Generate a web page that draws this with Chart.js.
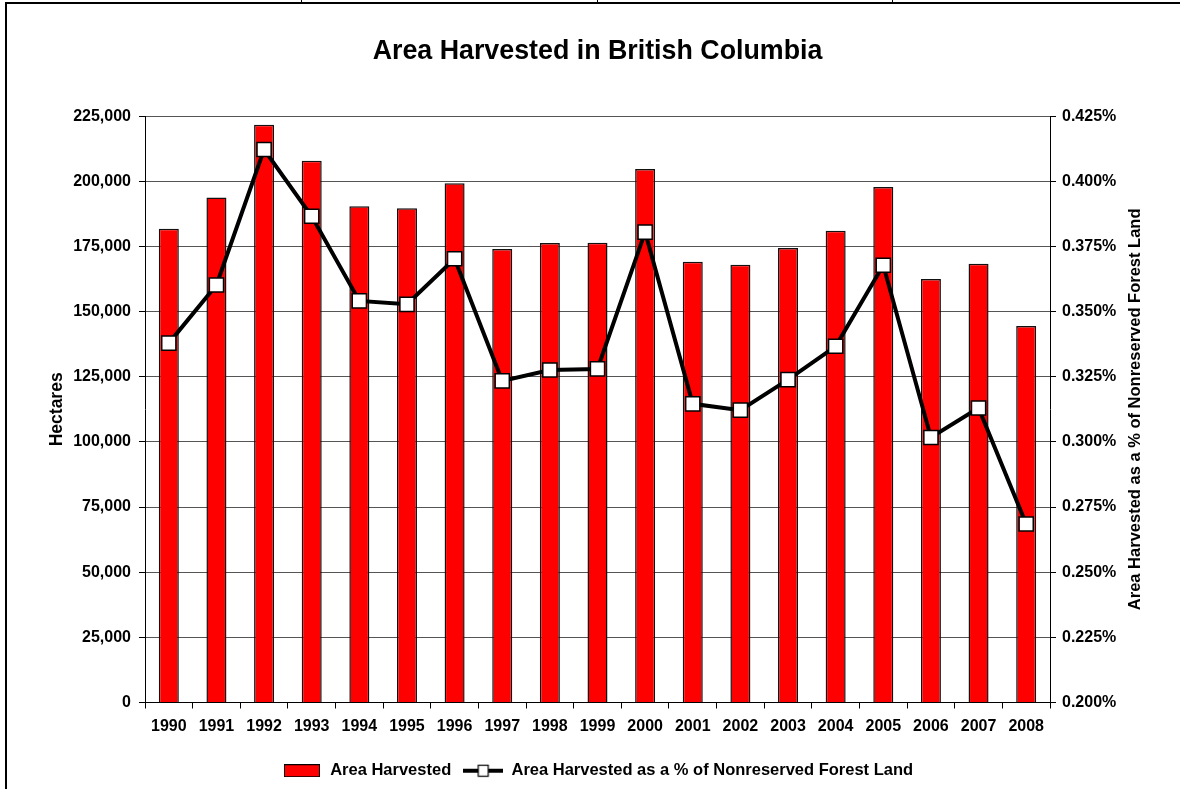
<!DOCTYPE html>
<html>
<head>
<meta charset="utf-8">
<script src="https://cdn.jsdelivr.net/npm/chart.js@4"></script>
<style>
  body { margin: 0; background: #fff; }
  #wrap { position: relative; width: 1180px; height: 789px; }
  #frame { position: absolute; left: 5px; top: 2px; right: 0; bottom: 0; border-left: 2px solid #000; border-top: 2px solid #000; pointer-events: none; }
  .cell { position: absolute; top: 0; width: 1px; height: 2px; background: #000; }
</style>
</head>
<body>
<div id="wrap">
  <canvas id="chart"></canvas>
  <div id="frame"></div>
  <div class="cell" style="left:301px"></div>
  <div class="cell" style="left:597px"></div>
  <div class="cell" style="left:892px"></div>
</div>
<script>
const years = ['1990','1991','1992','1993','1994','1995','1996','1997','1998','1999',
               '2000','2001','2002','2003','2004','2005','2006','2007','2008'];

// hectares harvested
const areaHarvested = [181800, 193800, 221700, 207900, 190400, 189700, 199300, 174000, 176300, 176400,
                       204700, 169100, 168000, 174400, 181000, 197800, 162500, 168400, 144500];

// percent of nonreserved forest land
const pctHarvested = [0.3379, 0.3602, 0.4122, 0.3866, 0.3541, 0.3528, 0.3703, 0.3234, 0.3276, 0.3280,
                      0.3805, 0.3146, 0.3122, 0.3239, 0.3367, 0.3678, 0.3017, 0.3130, 0.2685];

const leftAxis = { min: 0, max: 225000, step: 25000 };
const rightAxis = { min: 0.2, max: 0.425, step: 0.025 };

const FONT = '"Liberation Sans", Arial, sans-serif';
const lineTitle = 'Area Harvested as a % of Nonreserved Forest Land';

// legend glyphs
function barIcon(){
    const c = document.createElement('canvas');
    c.width = 36; c.height = 13;
    const g = c.getContext('2d');
    g.fillStyle = '#ff0000';
    g.fillRect(0, 0, 36, 13);
    g.strokeStyle = '#000';
    g.lineWidth = 1;
    g.strokeRect(0.5, 0.5, 35, 12);
    return c;
}
function lineIcon(){
    const c = document.createElement('canvas');
    c.width = 40; c.height = 14;
    const g = c.getContext('2d');
    g.fillStyle = '#000';
    g.fillRect(0, 5, 40, 4);
    g.fillStyle = '#fff';
    g.fillRect(15, 1.5, 10, 11);
    g.strokeStyle = '#000';
    g.lineWidth = 1.2;
    g.strokeRect(15, 1.5, 10, 11);
    return c;
}

// right axis title reads bottom-to-top like the left one
const rightTitle = {
    id: 'rightTitle',
    afterDraw(chart){
        const {ctx, chartArea} = chart;
        ctx.save();
        ctx.translate(1135, (chartArea.top + chartArea.bottom) / 2);
        ctx.rotate(-Math.PI / 2);
        ctx.font = 'bold 16.5px ' + FONT;
        ctx.fillStyle = '#000';
        ctx.textAlign = 'center';
        ctx.textBaseline = 'middle';
        ctx.fillText(lineTitle, 0, 0);
        ctx.restore();
    }
};

const tickFont = { family: FONT, size: 16, weight: 'bold' };

new Chart(document.getElementById('chart'), {
    type: 'bar',
    data: {
        labels: years,
        datasets: [{
            type: 'bar',
            label: 'Area Harvested',
            data: areaHarvested,
            yAxisID: 'y',
            backgroundColor: '#ff0000',
            borderColor: '#111',
            borderWidth: 1.5,
            barPercentage: 0.42,
            categoryPercentage: 1,
            order: 2
        }, {
            type: 'line',
            label: lineTitle,
            data: pctHarvested,
            yAxisID: 'y1',
            borderColor: '#000',
            borderWidth: 4,
            tension: 0,
            pointStyle: 'rect',
            pointRadius: 10,
            pointBackgroundColor: '#fff',
            pointBorderColor: '#000',
            pointBorderWidth: 1.5,
            order: 1
        }]
    },
    options: {
        responsive: true,
        maintainAspectRatio: false,
        animation: false,
        layout: { padding: { left: 47, right: 0, top: 0, bottom: 0 } },
        plugins: {
            tooltip: { enabled: false },
            title: {
                display: true,
                text: 'Area Harvested in British Columbia',
                fullSize: false,
                color: '#000',
                font: { family: FONT, size: 26.8, weight: 'bold' },
                padding: { top: 36, bottom: 48 }
            },
            legend: {
                position: 'bottom',
                fullSize: false,
                labels: {
                    usePointStyle: true,
                    pointStyleWidth: 40,
                    padding: 12,
                    color: '#000',
                    font: { family: FONT, size: 16.5, weight: 'bold' },
                    generateLabels(){
                        return [
                            { text: 'Area Harvested', pointStyle: barIcon(), datasetIndex: 0, hidden: false, lineWidth: 0, fontColor: '#000' },
                            { text: lineTitle, pointStyle: lineIcon(), datasetIndex: 1, hidden: false, lineWidth: 0, fontColor: '#000' }
                        ];
                    }
                }
            }
        },
        scales: {
            x: {
                offset: true,
                grid: { display: true, drawOnChartArea: false, offset: true, tickLength: 6, tickColor: '#000' },
                border: { color: '#000', width: 1 },
                ticks: { color: '#000', font: tickFont, autoSkip: false, maxRotation: 0, padding: 8 },
                afterFit(scale){ scale.height = 48; }
            },
            y: {
                position: 'left',
                min: leftAxis.min,
                max: leftAxis.max,
                grid: { color: '#555', tickLength: 6, tickColor: '#000' },
                border: { color: '#000', width: 1 },
                ticks: {
                    stepSize: leftAxis.step,
                    color: '#000',
                    font: tickFont,
                    padding: 8,
                    callback: v => v.toLocaleString('en-US')
                },
                title: {
                    display: true,
                    text: 'Hectares',
                    color: '#000',
                    font: { family: FONT, size: 17.5, weight: 'bold' },
                    padding: 0
                },
                afterFit(scale){ scale.width = 98; }
            },
            y1: {
                position: 'right',
                min: rightAxis.min,
                max: rightAxis.max,
                grid: { drawOnChartArea: false, tickLength: 6, tickColor: '#000' },
                border: { color: '#000', width: 1 },
                ticks: {
                    stepSize: rightAxis.step,
                    color: '#000',
                    font: tickFont,
                    padding: 6,
                    callback: v => v.toFixed(3) + '%'
                },
                afterFit(scale){ scale.width = 130; }
            }
        }
    },
    plugins: [rightTitle]
});
</script>
</body>
</html>
